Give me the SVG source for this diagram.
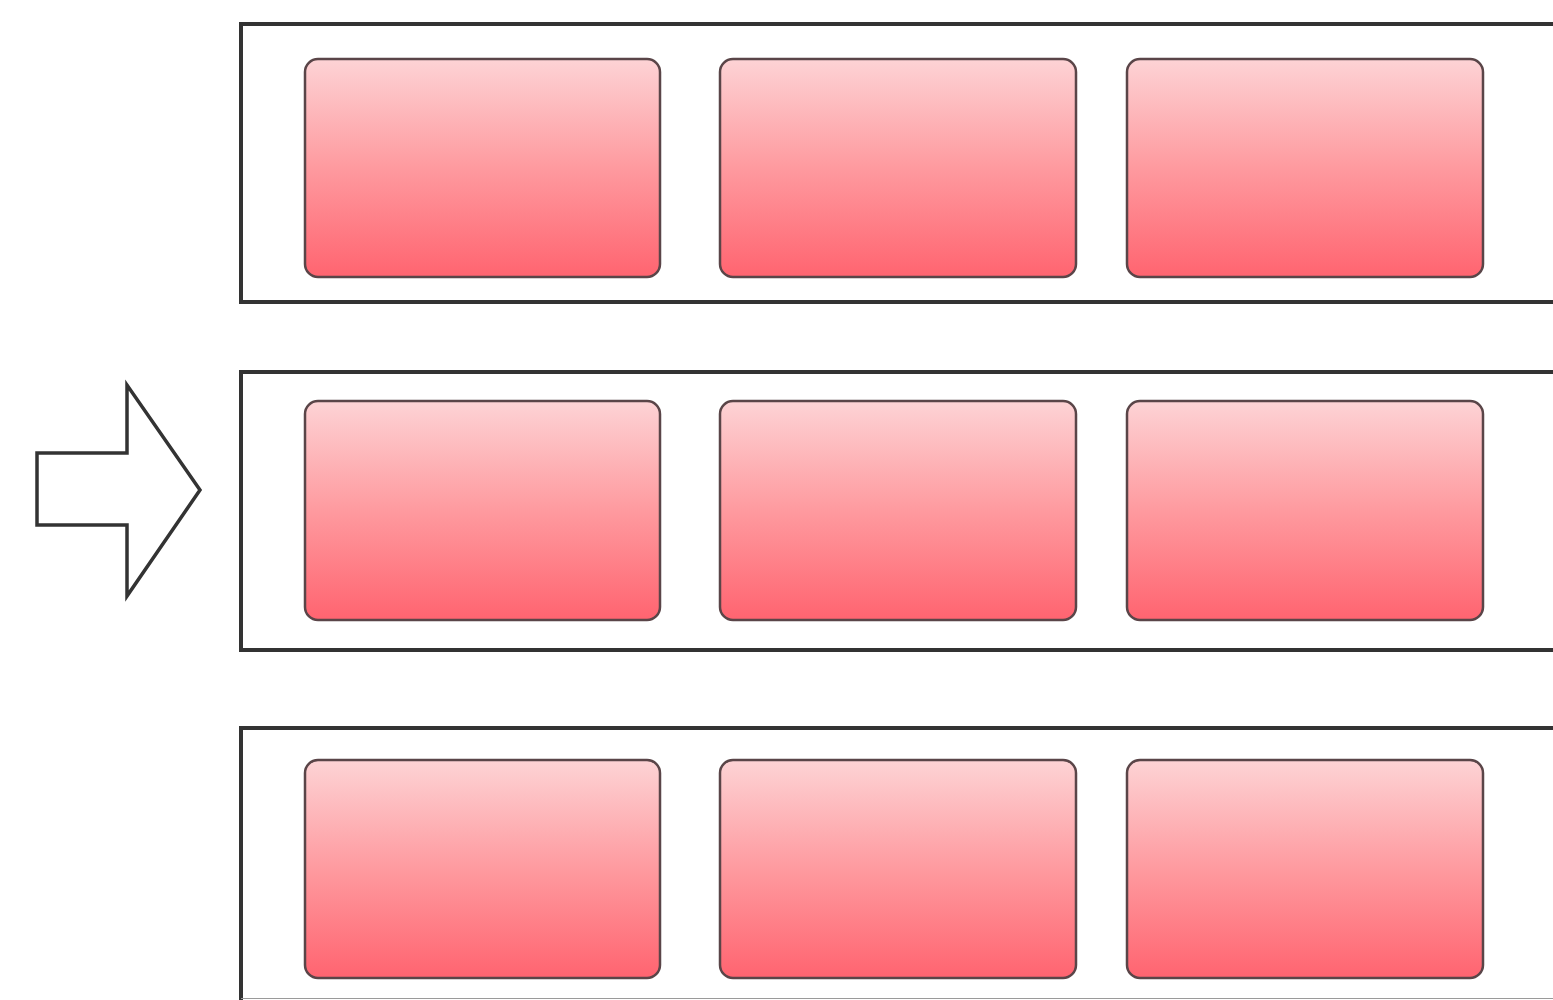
<svg xmlns="http://www.w3.org/2000/svg" width="1553" height="1000" viewBox="0 0 1553 1000">
  <defs>
    <linearGradient id="pink" x1="0" y1="0" x2="0" y2="1">
      <stop offset="0" stop-color="#fdd3d5"/>
      <stop offset="0.5" stop-color="#fe9a9f"/>
      <stop offset="1" stop-color="#ff6470"/>
    </linearGradient>
  </defs>
  <style>
    .frame { fill: #ffffff; stroke: #333333; stroke-width: 4; }
    .cell { fill: url(#pink); stroke: #5a4548; stroke-width: 2.5; }
    .arrow { fill: #ffffff; stroke: #333333; stroke-width: 3.5; stroke-linejoin: miter; }
  </style>
  <rect width="1553" height="1000" fill="#ffffff"/>

  <g id="row1">
    <rect class="frame" x="241" y="24" width="1330" height="278"/>
    <rect id="r1c1" class="cell" x="305" y="59" width="355" height="218" rx="13"/>
    <rect id="r1c2" class="cell" x="720" y="59" width="356" height="218" rx="13"/>
    <rect id="r1c3" class="cell" x="1127" y="59" width="356" height="218" rx="13"/>
  </g>

  <g id="row2">
    <rect class="frame" x="241" y="372" width="1330" height="278"/>
    <rect id="r2c1" class="cell" x="305" y="401" width="355" height="219" rx="13"/>
    <rect id="r2c2" class="cell" x="720" y="401" width="356" height="219" rx="13"/>
    <rect id="r2c3" class="cell" x="1127" y="401" width="356" height="219" rx="13"/>
  </g>

  <g id="row3">
    <rect class="frame" x="241" y="728" width="1330" height="290"/>
    <line x1="241" y1="998.5" x2="1553" y2="998.5" stroke="#9a9a9a" stroke-width="1"/>
    <rect id="r3c1" class="cell" x="305" y="760" width="355" height="218" rx="13"/>
    <rect id="r3c2" class="cell" x="720" y="760" width="356" height="218" rx="13"/>
    <rect id="r3c3" class="cell" x="1127" y="760" width="356" height="218" rx="13"/>
  </g>

  <g id="connectors">
    <path id="bigArrow" class="arrow" d="M37 453 H127 V385 L200 490 L127 596 V525 H37 Z"/>
  </g>
</svg>
